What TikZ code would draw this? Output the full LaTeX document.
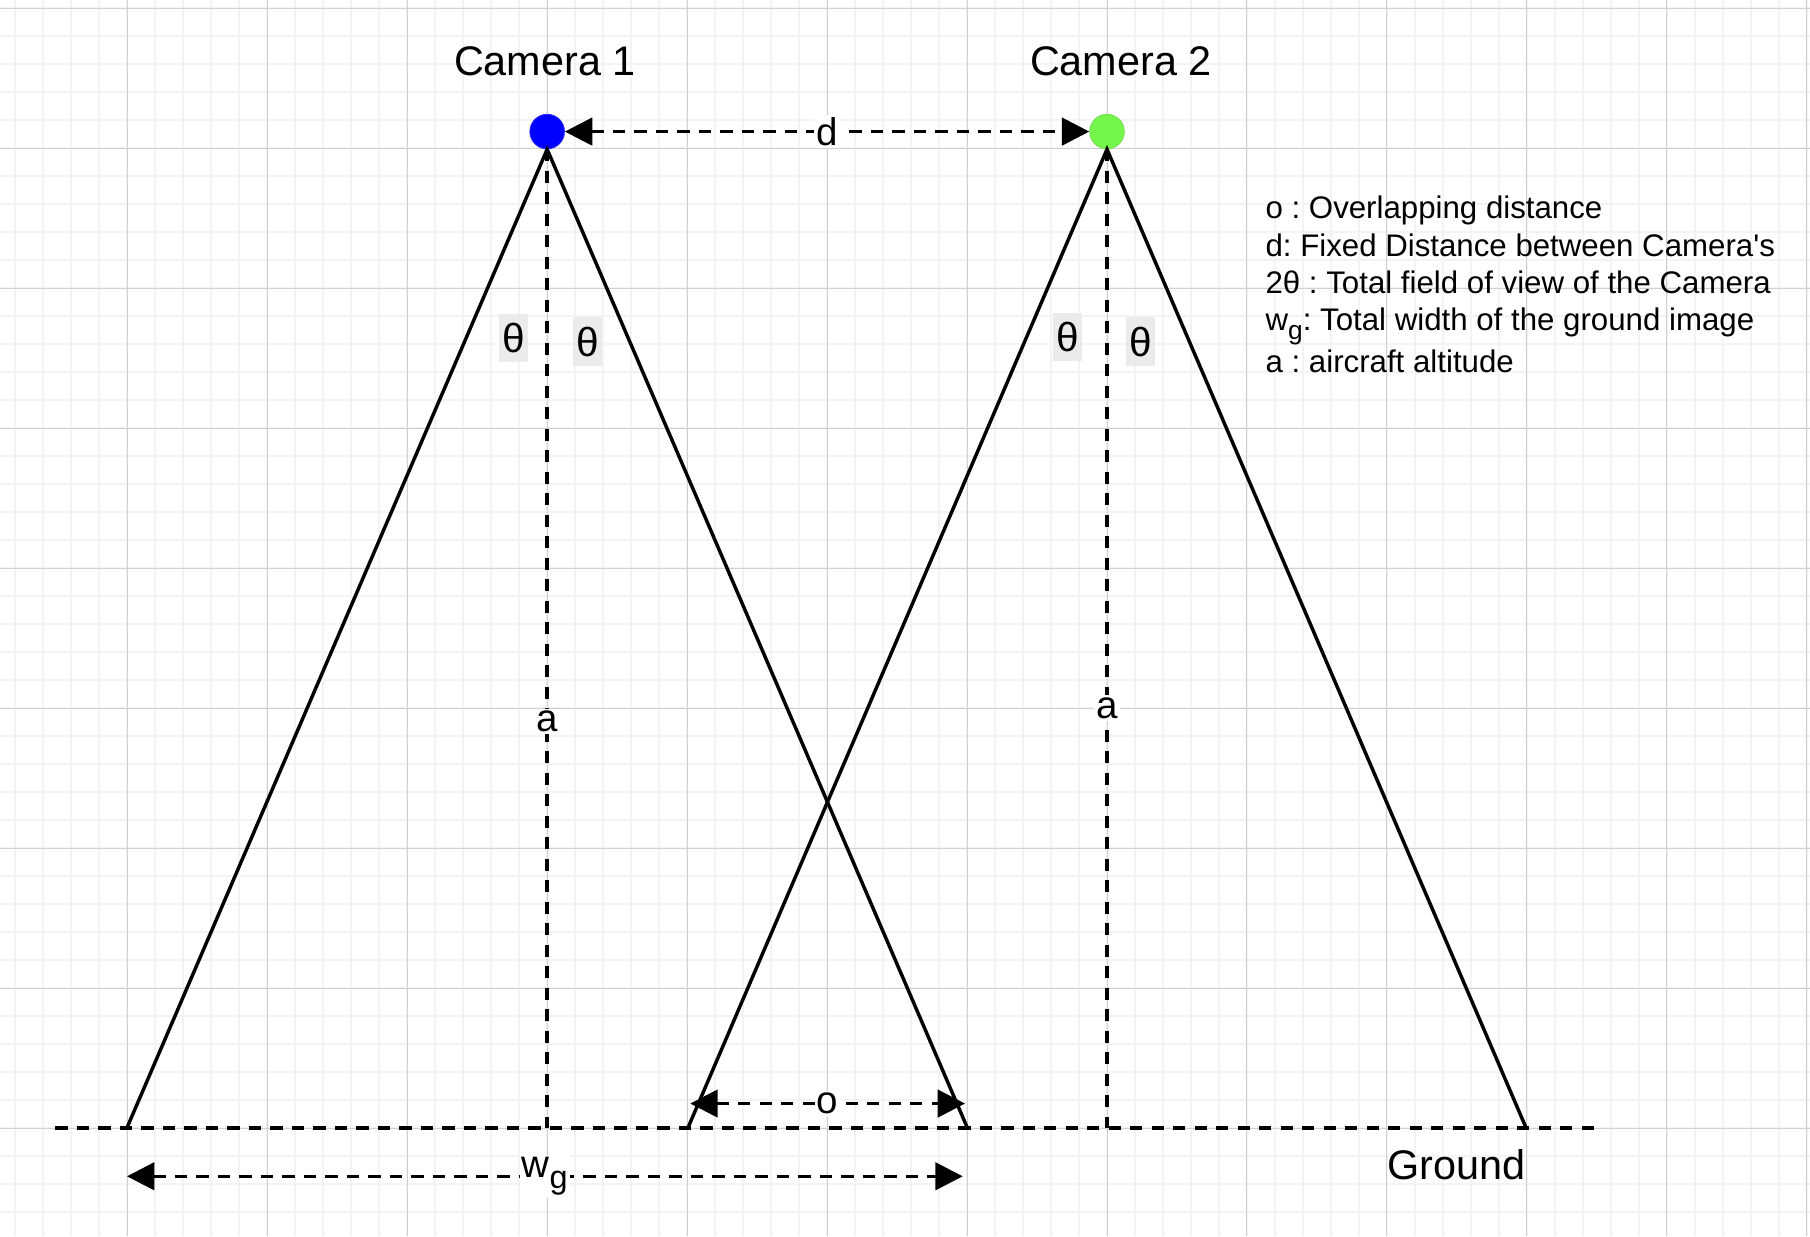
\documentclass[tikz,border=0pt]{standalone}
\usepackage{fontspec}
\setmainfont{Liberation Sans}
\usepackage{tikz}
\usetikzlibrary{calc,arrows.meta}
\definecolor{camblue}{HTML}{0000FF}
\definecolor{camgreen}{HTML}{74F74A}
\definecolor{majgrid}{HTML}{D0D0D0}
\definecolor{mingrid}{HTML}{F3F3F3}
\definecolor{thbox}{HTML}{EBEBEB}
\newcommand{\lowg}[1]{\raisebox{-0.3em}{\fontsize{#1}{#1}\selectfont g}}
\frenchspacing

\begin{document}
\begin{tikzpicture}[x=0.02cm,y=-0.02cm,
    CAM/.style={circle,inner sep=0pt,minimum size=0.6cm,line width=0.4pt},
    LN/.style={line width=1.7pt},
    DSH/.style={line width=1.7pt,dash pattern=on 6pt off 4.6pt},
    AR/.style={DSH,{Triangle[length=13.5pt,width=13.5pt]}-{Triangle[length=13.5pt,width=13.5pt]}},
    LBL/.style={fill=white,inner sep=1pt,font=\fontsize{19}{19}\selectfont},
    TH/.style={fill=thbox,inner xsep=1.5pt,inner ysep=0pt,minimum height=0.84cm,font=\fontsize{20}{20}\selectfont},
    BIG/.style={font=\fontsize{20.4}{24}\selectfont},
    KEY/.style={anchor=base west,inner sep=0pt,font=\fontsize{15.4}{18}\selectfont}]
    % canvas and grid
    \fill[white] (0,0) rectangle (1568,1071);
    \useasboundingbox (0,0) rectangle (1568,1071);
    \foreach \i in {-19,...,45} \draw[mingrid,line width=1pt] ({474+24.25*\i},0) -- ({474+24.25*\i},1071);
    \foreach \j in {-5,...,38} \draw[mingrid,line width=1pt] (0,{128.5+24.25*\j}) -- (1568,{128.5+24.25*\j});
    \foreach \i in {-3,...,9} \draw[majgrid,line width=0.5pt] ({474+121.25*\i},0) -- ({474+121.25*\i},1071);
    \foreach \j in {-1,...,7} \draw[majgrid,line width=0.5pt] (0,{128.5+121.25*\j}) -- (1568,{128.5+121.25*\j});
    % cameras
    \node[CAM,fill=camblue,draw=camblue!85!white] (cam1) at (474,114) {};
    \node[CAM,fill=camgreen,draw=camgreen!80!gray] (cam2) at (959,114) {};
    \node[BIG] (lab1) at (472,53) {Camera 1};
    \node[BIG] (lab2) at (971,53) {Camera 2};
    % points on the ground
    \coordinate (gl) at (48,977);
    \coordinate (gr) at (1384,977);
    \coordinate (f1l) at (110,977);
    \coordinate (f1m) at (474,977);
    \coordinate (f1r) at (838,977);
    \coordinate (f2l) at (596,977);
    \coordinate (f2m) at (959,977);
    \coordinate (f2r) at (1322,977);
    % ground line
    \draw[DSH] (gl) -- (gr);
    \node[BIG] (ground) at (1262,1009) {Ground};
    % fields of view
    \draw[LN] (f1l) -- (cam1.south) -- (f1r);
    \draw[LN] (f2l) -- (cam2.south) -- (f2r);
    % altitude
    \draw[DSH] (cam1.south) -- node[LBL,pos=0.585]{a} (f1m);
    \draw[DSH] (cam2.south) -- node[LBL,pos=0.571]{a} (f2m);
    % half angles
    \node[TH] (th1) at (445,293) {θ};
    \node[TH] (th2) at (509,296) {θ};
    \node[TH] (th3) at (925,292) {θ};
    \node[TH] (th4) at (988,296) {θ};
    % distance between cameras
    \draw[AR] (cam1) -- node[LBL]{d} (cam2);
    % overlap
    \coordinate (ol) at (598,956);
    \coordinate (orr) at (836,956);
    \draw[AR] (ol) -- node[LBL]{o} (orr);
    % ground width
    \coordinate (wl) at (110,1019);
    \coordinate (wr) at (834,1019);
    \draw[AR] (wl) -- node[LBL,pos=0.5]{w\lowg{16}} (wr);
    % legend
    \node[KEY] (key1) at (1096,189) {o : Overlapping distance};
    \node[KEY] (key2) at (1096,222) {d: Fixed Distance between Camera\textquotesingle s};
    \node[KEY] (key3) at (1096,254) {2θ : Total field of view of the Camera};
    \node[KEY] (key4) at (1096,286) {w\lowg{13}: Total width of the ground image};
    \node[KEY] (key5) at (1096,323) {a : aircraft altitude};
\end{tikzpicture}
\end{document}
